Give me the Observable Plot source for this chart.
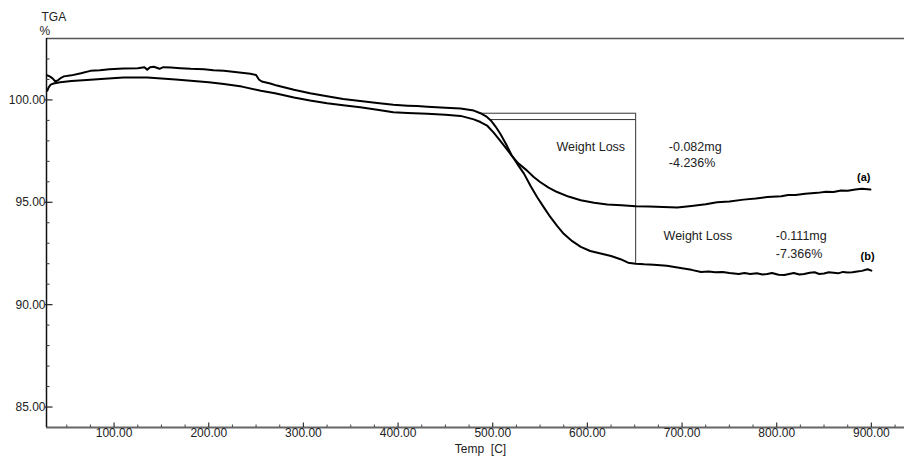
<!DOCTYPE html>
<html>
<head>
<meta charset="utf-8">
<script src="https://cdn.jsdelivr.net/npm/d3@7"></script>
<script src="https://cdn.jsdelivr.net/npm/@observablehq/plot@0.6"></script>
<style>
  html, body { margin: 0; padding: 0; background: #fff; }
  svg { display: block; }
</style>
</head>
<body>
<div id="chart"></div>
<script>
// ---- data ----
const tempB = [29.5, 32, 35, 38, 41, 44, 47, 55, 65, 75, 85, 95, 110, 125, 132, 135, 138, 142, 148, 152, 160, 170, 181, 195, 205, 216, 230, 244, 250, 253, 256, 265, 272, 290, 307, 325, 342, 360, 378, 395, 410, 420, 431, 450, 466, 480, 487, 493, 498, 503, 508, 514, 520, 527, 533, 540, 547, 554, 561, 568, 575, 584, 593, 603, 614, 625, 635, 643, 651, 660, 670, 684, 700, 710, 720, 728, 735, 743, 750, 760, 766, 772, 779, 785, 790, 795, 802, 808, 813, 818, 824, 829, 835, 840, 845, 850, 855, 860, 865, 870, 875, 880, 885, 890, 896, 900];
const tgaB = [101.2, 101.15, 101.05, 100.9, 100.97, 101.08, 101.15, 101.2, 101.3, 101.42, 101.45, 101.5, 101.54, 101.55, 101.6, 101.48, 101.6, 101.62, 101.52, 101.6, 101.58, 101.55, 101.52, 101.5, 101.45, 101.42, 101.35, 101.28, 101.22, 101.0, 100.9, 100.8, 100.7, 100.5, 100.33, 100.18, 100.05, 99.95, 99.85, 99.76, 99.72, 99.7, 99.67, 99.62, 99.58, 99.48, 99.35, 99.2, 99.0, 98.7, 98.35, 97.85, 97.3, 96.8, 96.4, 95.8, 95.25, 94.75, 94.27, 93.85, 93.46, 93.1, 92.82, 92.62, 92.5, 92.38, 92.22, 92.05, 92.0, 91.97, 91.95, 91.9, 91.78, 91.7, 91.6, 91.62, 91.58, 91.6, 91.55, 91.5, 91.55, 91.5, 91.53, 91.47, 91.5, 91.55, 91.46, 91.45, 91.5, 91.55, 91.47, 91.5, 91.56, 91.58, 91.5, 91.52, 91.58, 91.56, 91.53, 91.6, 91.57, 91.58, 91.62, 91.65, 91.73, 91.66];

const tempA = [29.5, 31, 33, 36, 43, 55, 75, 90, 110, 125, 135, 150, 165, 181, 200, 216, 235, 255, 270, 290, 307, 325, 342, 360, 378, 395, 410, 431, 450, 466, 480, 487, 494, 501, 508, 514, 520, 527, 536, 543, 550, 559, 568, 580, 593, 607, 621, 636, 651, 665, 680, 695, 710, 725, 737, 750, 765, 778, 790, 805, 812, 820, 830, 843, 852, 860, 868, 875, 883, 890, 899];
const tgaA = [100.45, 100.62, 100.75, 100.8, 100.86, 100.92, 100.99, 101.04, 101.1, 101.1, 101.09, 101.05, 101.0, 100.94, 100.86, 100.78, 100.65, 100.45, 100.33, 100.12, 99.97, 99.84, 99.74, 99.64, 99.52, 99.4, 99.36, 99.32, 99.27, 99.22, 99.05, 98.92, 98.75, 98.4, 98.0, 97.65, 97.28, 96.9, 96.56, 96.25, 95.99, 95.72, 95.5, 95.28, 95.1, 94.98, 94.89, 94.85, 94.81, 94.8, 94.77, 94.75, 94.82, 94.9, 95.0, 95.04, 95.13, 95.18, 95.26, 95.3, 95.36, 95.36, 95.42, 95.46, 95.52, 95.5, 95.58, 95.56, 95.62, 95.66, 95.62];

// weight-loss step markers
const stepStartTemps = [487, 498];
const stepLevels = [99.35, 99.04];
const stepEndTemp = 651;
const stepBottom = 92.0;

// annotation texts (data coordinates)
const annotLabels = ["Weight Loss", "-0.082mg", "-4.236%", "Weight Loss", "-0.111mg", "-7.366%"];
const annotTemps  = [567.4, 686, 686, 680.5, 799, 799];
const annotValues = [97.72, 97.72, 96.9, 93.33, 93.33, 92.45];

const seriesLabels = ["(a)", "(b)"];
const seriesLabelTemps = [892, 896];
const seriesLabelValues = [96.2, 92.33];

const xMajor = [100, 200, 300, 400, 500, 600, 700, 800, 900];
const xMinor = d3.range(50, 926, 25).filter(t => t % 100 !== 0);
const yMajor = [85, 90, 95, 100];
const yMinor = d3.range(85, 103, 1).filter(v => v % 5 !== 0);

const xDomain = [28.6, 935];
const yDomain = [84, 103];

// ---- build rows ----
const rowsA = tempA.map((t, i) => ({temp: t, tga: tgaA[i]}));
const rowsB = tempB.map((t, i) => ({temp: t, tga: tgaB[i]}));
const steps = stepStartTemps.map((t, i) => ({x1: t, x2: stepEndTemp, y: stepLevels[i]}));
const annots = annotLabels.map((s, i) => ({s, t: annotTemps[i], v: annotValues[i]}));
const slabels = seriesLabels.map((s, i) => ({s, t: seriesLabelTemps[i], v: seriesLabelValues[i]}));

const xLen = (px) => px * (yDomain[1] - yDomain[0]) / 389;   // tick length along y in data units
const yLen = (px) => px * (xDomain[1] - xDomain[0]) / 858;   // tick length along x in data units

const font = "'Liberation Sans', Arial, sans-serif";

const chart = Plot.plot({
  width: 904,
  height: 456,
  marginLeft: 46,
  marginRight: 0,
  marginTop: 38,
  marginBottom: 29,
  style: {fontFamily: font, fontSize: "12px", color: "#222", background: "#fff"},
  x: {domain: xDomain},
  y: {domain: yDomain},
  marks: [
    // frame top line
    Plot.ruleY([yDomain[1]], {stroke: "#555", strokeWidth: 1.5}),
    // bottom axis line
    Plot.ruleY([yDomain[0]], {stroke: "#666", strokeWidth: 2}),
    // left axis line
    Plot.ruleX([xDomain[0]], {stroke: "#111", strokeWidth: 1.5}),
    // x ticks (inward)
    Plot.ruleX(xMajor, {x: d => d, y1: yDomain[0], y2: yDomain[0] + xLen(4.5), stroke: "#333", strokeWidth: 1.2}),
    Plot.ruleX(xMinor, {x: d => d, y1: yDomain[0], y2: yDomain[0] + xLen(2.5), stroke: "#444", strokeWidth: 1}),
    // y ticks (inward)
    Plot.ruleY(yMajor, {y: d => d, x1: xDomain[0] - yLen(1), x2: xDomain[0] + yLen(6.5), stroke: "#222", strokeWidth: 1.2}),
    Plot.ruleY(yMinor, {y: d => d, x1: xDomain[0], x2: xDomain[0] + yLen(3.5), stroke: "#333", strokeWidth: 1}),
    Plot.axisX({ticks: xMajor, tickFormat: d => d.toFixed(2), tickSize: 0, tickPadding: 1, label: null, fontSize: 12, fill: "#222"}),
    Plot.axisY({ticks: yMajor, tickFormat: d => d.toFixed(2), tickSize: 0, tickPadding: 1, label: null, fontSize: 12, fill: "#222"}),
    // step annotation lines
    Plot.ruleY(steps, {y: "y", x1: "x1", x2: "x2", stroke: "#333", strokeWidth: 1}),
    Plot.ruleX([stepEndTemp], {x: d => d, y1: stepBottom, y2: stepLevels[0], stroke: "#333", strokeWidth: 1}),
    // curves
    Plot.line(rowsA, {x: "temp", y: "tga", stroke: "#000", strokeWidth: 2, curve: "linear"}),
    Plot.line(rowsB, {x: "temp", y: "tga", stroke: "#000", strokeWidth: 2, curve: "linear"}),
    // annotations
    Plot.text(annots, {x: "t", y: "v", text: "s", textAnchor: "start", fontSize: 12.5, fill: "#222"}),
    Plot.text(slabels, {x: "t", y: "v", text: "s", fontSize: 11, fontWeight: "bold", fill: "#000"}),
    // axis titles
    Plot.text(["TGA"], {frameAnchor: "top-left", lineAnchor: "middle", text: d => d, dx: -5, dy: -21, fontSize: 12, fill: "#222"}),
    Plot.text(["%"], {frameAnchor: "top-left", lineAnchor: "middle", text: d => d, dx: -7, dy: -7, fontSize: 12, fill: "#222"}),
    Plot.text(["Temp  [C]"], {frameAnchor: "bottom", lineAnchor: "middle", text: d => d, dx: 5, dy: 22, fontSize: 12, fill: "#222"})
  ]
});
document.getElementById("chart").append(chart);
</script>
</body>
</html>
